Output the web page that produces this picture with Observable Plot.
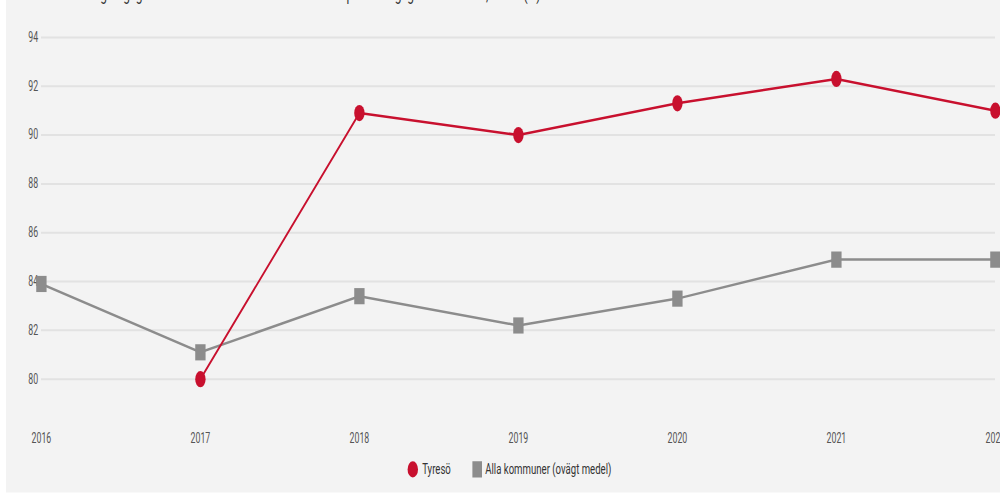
<!DOCTYPE html>
<html>
<head>
<meta charset="utf-8">
<script src="https://cdn.jsdelivr.net/npm/d3@7"></script>
<script src="https://cdn.jsdelivr.net/npm/@observablehq/plot@0.6"></script>
<style>
  html, body { margin: 0; padding: 0; background: #ffffff; width: 1000px; height: 494px; overflow: hidden; }
  #stage {
    position: absolute; left: 6px; top: 0;
    width: 1243px; height: 393.6px;
    background: #f3f3f3;
    transform: scale(0.8, 1.25); transform-origin: 0 0;
    overflow: hidden;
    font-family: Roboto, "Noto Sans", sans-serif;
  }
  #title {
    position: absolute; left: 7.5px; top: -11.8px;
    font-size: 15px; line-height: 15px; color: #333; white-space: nowrap;
  }
  #chart { position: absolute; left: 0; top: 0; }
  #legend {
    position: absolute; top: 368px; left: 8px; width: 100%; height: 14px;
    display: flex; justify-content: center; align-items: center;
    font-size: 12px; color: #333; white-space: nowrap;
  }
  .sw-circle { width: 13px; height: 13px; border-radius: 50%; background: #c8102e; margin-right: 5px; }
  .sw-square { width: 12px; height: 13px; background: #8c8c8c; margin-left: 27px; margin-right: 4px; }
</style>
</head>
<body>
<div id="stage">
  <div id="title"></div>
  <div id="chart"></div>
  <div id="legend"></div>
</div>
<script>
// ---- data ----
const titleText = "Brukarbedömning daglig verksamhet LSS - Brukaren trivs alltid på sin dagliga verksamhet, andel (%)";
const years = [2016, 2017, 2018, 2019, 2020, 2021, 2022];
const tyreso = [null, 80.0, 90.9, 90.0, 91.3, 92.3, 91.0];
const alla = [83.9, 81.1, 83.4, 82.2, 83.3, 84.9, 84.9];
const yTicks = [80, 82, 84, 86, 88, 90, 92, 94];
const seriesNames = ["Tyresö", "Alla kommuner (ovägt medel)"];

const red = "#c8102e";
const gray = "#8c8c8c";

const tyresoData = years.map((y, i) => ({year: y, value: tyreso[i]}));
const allaData = years.map((y, i) => ({year: y, value: alla[i]}));

document.getElementById("title").textContent = titleText;

const chart = Plot.plot({
  width: 1243,
  height: 360,
  marginLeft: 43.75,
  marginRight: 6.75,
  marginTop: 9.9,
  marginBottom: 18.1,
  style: {background: "transparent", fontFamily: "Roboto, 'Noto Sans', sans-serif", fontSize: "11px", color: "#555"},
  x: {domain: [2016, 2022], ticks: years, tickFormat: d => String(d), tickSize: 0, tickPadding: 3.8, label: null},
  y: {domain: [78, 95], ticks: yTicks, tickSize: 0, tickPadding: 4, label: null},
  marks: [
    Plot.gridY(yTicks, {stroke: "#e2e2e2", strokeOpacity: 1, strokeWidth: 1.6}),
    Plot.line(allaData, {x: "year", y: "value", stroke: gray, strokeWidth: 2}),
    Plot.dot(allaData, {x: "year", y: "value", symbol: "square", r: 7.3, fill: gray, stroke: "none"}),
    Plot.line(tyresoData, {x: "year", y: "value", stroke: red, strokeWidth: 2}),
    Plot.dot(tyresoData, {x: "year", y: "value", symbol: "circle", r: 6.5, fill: red, stroke: "none"})
  ]
});
document.getElementById("chart").appendChild(chart);

const legend = document.getElementById("legend");
legend.innerHTML =
  `<span class="sw-circle"></span><span>${seriesNames[0]}</span>` +
  `<span class="sw-square"></span><span>${seriesNames[1]}</span>`;
</script>
</body>
</html>
